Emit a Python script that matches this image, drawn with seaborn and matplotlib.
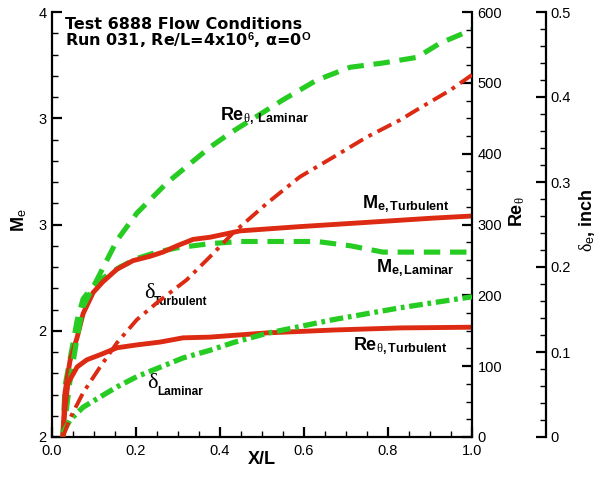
import matplotlib
matplotlib.use("Agg")
import matplotlib.pyplot as plt
import seaborn as sns
from matplotlib.ticker import MultipleLocator, FixedLocator, FixedFormatter

# ---------------- data ----------------
x_me_turb = [0.026, 0.031, 0.043, 0.060, 0.074, 0.098, 0.121, 0.155, 0.193, 0.233, 0.264,
             0.298, 0.336, 0.376, 0.448, 0.590, 0.750, 0.907, 1.0]
me_turb = [2.00, 2.21, 2.36, 2.47, 2.58, 2.68, 2.73, 2.79, 2.83, 2.85, 2.87,
           2.90, 2.93, 2.94, 2.97, 2.99, 3.01, 3.03, 3.04]

x_me_lam = [0.026, 0.031, 0.048, 0.060, 0.074, 0.090, 0.107, 0.131, 0.162, 0.202, 0.250,
            0.298, 0.376, 0.450, 0.550, 0.631, 0.710, 0.788, 0.869, 1.0]
me_lam = [2.00, 2.24, 2.42, 2.55, 2.65, 2.69, 2.73, 2.76, 2.80, 2.84, 2.87,
          2.89, 2.91, 2.92, 2.92, 2.92, 2.90, 2.87, 2.87, 2.87]

x_re_lam = [0.026, 0.043, 0.060, 0.074, 0.107, 0.155, 0.202, 0.274, 0.376, 0.424, 0.550,
            0.631, 0.710, 0.788, 0.869, 0.924, 1.0]
re_lam = [0, 80, 141, 184, 222, 278, 316, 359, 409, 429, 476,
          504, 522, 528, 536, 556, 575]

x_re_turb = [0.026, 0.031, 0.038, 0.060, 0.083, 0.114, 0.155, 0.202, 0.257, 0.312, 0.376,
             0.512, 0.669, 0.829, 1.0]
re_turb = [0, 42, 76, 99, 109, 116, 126, 130, 134, 140, 141,
           147, 151, 154, 155]

x_d_turb = [0.026, 0.043, 0.074, 0.114, 0.155, 0.202, 0.250, 0.321, 0.376, 0.431, 0.512,
            0.590, 0.669, 0.750, 0.829, 0.869, 0.948, 1.0]
d_turb = [0.0, 0.022, 0.052, 0.082, 0.111, 0.138, 0.158, 0.185, 0.212, 0.240, 0.275,
          0.306, 0.329, 0.353, 0.373, 0.385, 0.408, 0.426]

x_d_lam = [0.026, 0.043, 0.074, 0.114, 0.155, 0.202, 0.257, 0.312, 0.376, 0.431, 0.512,
           0.669, 0.829, 1.0]
d_lam = [0.005, 0.020, 0.035, 0.047, 0.059, 0.071, 0.082, 0.093, 0.102, 0.111, 0.122,
         0.138, 0.152, 0.165]

x_ticks = [0.0, 0.2, 0.4, 0.6, 0.8, 1.0]
x_ticklabels = ["0.0", "0.2", "0.4", "0.6", "0.8", "1.0"]
me_ticks = [2.0, 2.5, 3.0, 3.5, 4.0]
me_ticklabels = ["2", "2", "3", "3", "4"]
re_ticks = [0, 100, 200, 300, 400, 500, 600]
re_ticklabels = ["0", "100", "200", "300", "400", "500", "600"]
d_ticks = [0.0, 0.1, 0.2, 0.3, 0.4, 0.5]
d_ticklabels = ["0", "0.1", "0.2", "0.3", "0.4", "0.5"]

title_text = ("Test 6888 Flow Conditions\n"
              r"Run 031, Re/L=4x10$^{\mathbf{6}}$, α=0$^{\mathbf{O}}$")

# ---------------- style ----------------
sns.set_style("ticks", rc={"axes.edgecolor": "black", "text.color": "black",
                           "axes.labelcolor": "black", "xtick.color": "black",
                           "ytick.color": "black"})
plt.rcParams["font.family"] = ["Liberation Sans", "DejaVu Sans"]
plt.rcParams["mathtext.fontset"] = "custom"
plt.rcParams["mathtext.rm"] = "Liberation Sans"
plt.rcParams["mathtext.bf"] = "Liberation Sans:bold"
plt.rcParams["mathtext.it"] = "Liberation Serif"
plt.rcParams["mathtext.sf"] = "Liberation Sans"

RED = "#dd2a12"
GREEN = "#26cc22"

fig = plt.figure(figsize=(6.03, 4.78), dpi=100)
ax = fig.add_axes([52 / 603, 41 / 478, 420 / 603, 425 / 478])
ax2 = ax.twinx()
ax3 = ax.twinx()

# ---------------- lines ----------------
sns.lineplot(x=x_me_lam, y=me_lam, ax=ax, color=GREEN, lw=3.7,
             linestyle=(0, (3.2, 1.9)), estimator=None)
sns.lineplot(x=x_me_turb, y=me_turb, ax=ax, color=RED, lw=3.5,
             linestyle="-", estimator=None)
sns.lineplot(x=x_re_lam, y=re_lam, ax=ax2, color=GREEN, lw=3.7,
             linestyle=(0, (3.2, 1.9)), estimator=None)
sns.lineplot(x=x_re_turb, y=re_turb, ax=ax2, color=RED, lw=3.5,
             linestyle="-", estimator=None)
sns.lineplot(x=x_d_lam, y=d_lam, ax=ax3, color=GREEN, lw=3.8,
             linestyle=(0, (2.6, 0.9, 0.7, 0.9)), estimator=None)
sns.lineplot(x=x_d_turb, y=d_turb, ax=ax3, color=RED, lw=2.8,
             linestyle=(0, (4.0, 1.6, 1.0, 1.6)), estimator=None)

# ---------------- axes ----------------
ax.set_xlim(0, 1)
ax.set_ylim(2, 4)
ax2.set_ylim(0, 600)
ax3.set_ylim(0, 0.5)

for a in (ax, ax2, ax3):
    for s in a.spines.values():
        s.set_visible(False)
        s.set_linewidth(1.6)
ax.spines["left"].set_visible(True)
ax.spines["bottom"].set_visible(True)
ax2.spines["right"].set_visible(True)
ax3.spines["right"].set_visible(True)
ax3.spines["right"].set_position(("axes", 1.176))

ax.xaxis.set_major_locator(FixedLocator(x_ticks))
ax.xaxis.set_major_formatter(FixedFormatter(x_ticklabels))
ax.xaxis.set_minor_locator(MultipleLocator(0.05))
ax.yaxis.set_major_locator(FixedLocator(me_ticks))
ax.yaxis.set_major_formatter(FixedFormatter(me_ticklabels))
ax.yaxis.set_minor_locator(MultipleLocator(0.1))
ax2.yaxis.set_major_locator(FixedLocator(re_ticks))
ax2.yaxis.set_major_formatter(FixedFormatter(re_ticklabels))
ax2.yaxis.set_minor_locator(MultipleLocator(25))
ax3.yaxis.set_major_locator(FixedLocator(d_ticks))
ax3.yaxis.set_major_formatter(FixedFormatter(d_ticklabels))
ax3.yaxis.set_minor_locator(MultipleLocator(0.02))

ax.tick_params(axis="y", which="both", direction="in", left=True, right=False)
ax.tick_params(axis="x", which="both", direction="in", bottom=True, top=False)
for a in (ax, ax2, ax3):
    a.tick_params(which="major", length=7, width=1.6, labelsize=10.5, pad=4)
    a.tick_params(which="minor", length=4, width=1.0)
    a.grid(False)
ax.tick_params(axis="x", which="major", pad=5)
for a in (ax2, ax3):
    a.tick_params(axis="y", which="both", direction="in", right=True, left=False)
ax3.tick_params(axis="y", which="major", pad=3)

ax.set_xlabel("X/L", fontsize=13, fontweight="bold")
ax.xaxis.set_label_coords(0.5, -0.054)
ax.xaxis.label.set_va("center")
ax.set_ylabel(r"M$_{\mathrm{e}}$", fontsize=13, fontweight="bold")
ax.yaxis.set_label_coords(-0.079, 0.51)
ax.yaxis.label.set_va("center")
ax2.set_ylabel(r"Re$_{\theta}$", fontsize=13, fontweight="bold")
ax2.yaxis.set_label_coords(1.107, 0.53)
ax2.yaxis.label.set_va("center")
ax3.set_ylabel(r"$\delta_{\mathrm{e}}$, inch", fontsize=13, fontweight="bold")
ax3.yaxis.set_label_coords(1.274, 0.51)
ax3.yaxis.label.set_va("center")

# ---------------- text ----------------
def axfrac(px, py):
    return (px - 52) / 420, (437 - py) / 425

tx, ty = axfrac(65, 17)
ax.text(tx, ty, title_text, transform=ax.transAxes, fontsize=11.5, fontweight="bold",
        family=["DejaVu Sans"], va="top", ha="left", linespacing=0.88)

labels = [
    (r"Re$_{\theta\mathbf{,\ Laminar}}$", 220, 120),
    (r"M$_{\mathbf{e,Turbulent}}$", 362, 208),
    (r"M$_{\mathbf{e,Laminar}}$", 376, 272),
    (r"Re$_{\theta\mathbf{,Turbulent}}$", 353, 350),
]
for s, px, py in labels:
    tx, ty = axfrac(px, py)
    ax2.text(tx, ty, s, transform=ax.transAxes, fontsize=13, fontweight="bold",
             va="baseline", ha="left")

delta_labels = [("Turbulent", 144, 298), ("Laminar", 147, 388)]
for sub, px, py in delta_labels:
    tx, ty = axfrac(px, py)
    ax2.text(tx, ty, "δ", transform=ax.transAxes, fontsize=16,
             family=["Liberation Serif", "DejaVu Serif"], va="baseline", ha="left")
    tx, ty = axfrac(px + 10, py + 7)
    ax2.text(tx, ty, sub, transform=ax.transAxes, fontsize=8.5, fontweight="bold",
             va="baseline", ha="left")

fig.savefig("out.png", dpi=100)
